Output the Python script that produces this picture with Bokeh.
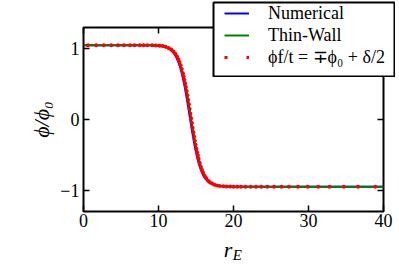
from bokeh.plotting import figure
from bokeh.models import (Range1d, LinearAxis, FixedTicker, Legend, LegendItem,
                          CustomLabelingPolicy)
from bokeh.embed import file_html
from bokeh.resources import INLINE

# ---- data ----
x_ticks = [0, 10, 20, 30, 40]
y_ticks = [-1, 0, 1]
y_tick_labels = {-1: "\u22121", 0: "0", 1: "1"}

numerical_r = [0, 2, 4, 6, 8, 9, 9.5, 10, 10.4, 10.8, 11.2, 11.55, 11.85, 12.1, 12.3,
               12.5, 12.65, 12.8, 12.95, 13.1, 13.2, 13.3, 13.4, 13.5, 13.6, 13.7, 13.8,
               13.9, 14.0, 14.1, 14.2, 14.3, 14.4, 14.5, 14.6, 14.7, 14.8, 14.9, 15.0,
               15.1, 15.2, 15.35, 15.5, 15.65, 15.8, 16.0, 16.2, 16.45, 16.7, 17.0, 17.3,
               17.65, 18.0, 18.5, 18.9, 19.4, 20, 22, 25, 30, 35, 40]
numerical_phi = [1.05, 1.05, 1.05, 1.05, 1.049, 1.048, 1.046, 1.042, 1.037, 1.027, 1.012,
                 0.989, 0.961, 0.928, 0.894, 0.851, 0.812, 0.766, 0.714, 0.654, 0.610,
                 0.563, 0.512, 0.458, 0.401, 0.341, 0.279, 0.215, 0.150, 0.083, 0.017,
                 -0.050, -0.115, -0.179, -0.241, -0.301, -0.358, -0.412, -0.463, -0.510,
                 -0.554, -0.614, -0.666, -0.712, -0.751, -0.794, -0.828, -0.861, -0.885,
                 -0.906, -0.921, -0.931, -0.938, -0.944, -0.946, -0.948, -0.949, -0.95,
                 -0.95, -0.95, -0.95, -0.95]

thinwall_r = [0, 2, 4, 6, 8, 9.15, 9.65, 10.15, 10.55, 10.95, 11.35, 11.7, 12.0, 12.25,
              12.45, 12.65, 12.8, 12.95, 13.1, 13.25, 13.35, 13.45, 13.55, 13.65, 13.75,
              13.85, 13.95, 14.05, 14.15, 14.25, 14.35, 14.45, 14.55, 14.65, 14.75, 14.85,
              14.95, 15.05, 15.15, 15.25, 15.35, 15.5, 15.65, 15.8, 15.95, 16.15, 16.35,
              16.6, 16.85, 17.15, 17.45, 17.8, 18.15, 18.65, 19.05, 19.55, 20.15, 22, 25,
              30, 35, 40]
thinwall_phi = [1.05, 1.05, 1.05, 1.05, 1.049, 1.048, 1.046, 1.042, 1.037, 1.027, 1.012,
                0.989, 0.961, 0.928, 0.894, 0.851, 0.812, 0.766, 0.714, 0.654, 0.610,
                0.563, 0.512, 0.458, 0.401, 0.341, 0.279, 0.215, 0.150, 0.083, 0.017,
                -0.050, -0.115, -0.179, -0.241, -0.301, -0.358, -0.412, -0.463, -0.510,
                -0.554, -0.614, -0.666, -0.712, -0.751, -0.794, -0.828, -0.861, -0.885,
                -0.906, -0.921, -0.931, -0.938, -0.944, -0.946, -0.948, -0.949, -0.95,
                -0.95, -0.95, -0.95, -0.95]

dots_r = [0.6, 1.7, 2.7, 3.7, 4.6, 5.4, 6.2, 6.8, 7.5, 8.0, 8.5, 9.15, 9.65, 10.15, 10.55,
          10.95, 11.35, 11.7, 12.0, 12.25, 12.45, 12.65, 12.8, 12.95, 13.1, 13.25, 13.35,
          13.45, 13.55, 13.65, 13.75, 13.85, 13.95, 14.05, 14.15, 14.25, 14.35, 14.45,
          14.55, 14.65, 14.75, 14.85, 14.95, 15.05, 15.15, 15.25, 15.35, 15.5, 15.65, 15.8,
          15.95, 16.15, 16.35, 16.6, 16.85, 17.15, 17.45, 17.8, 18.15, 18.65, 19.05, 19.55,
          20.0, 20.5, 21.0, 21.6, 22.3, 23.0, 23.7, 24.5, 25.4, 26.4, 27.4, 28.6, 29.9,
          31.3, 32.8, 34.7, 36.6, 38.9]
dots_phi = [1.05, 1.05, 1.05, 1.05, 1.05, 1.05, 1.05, 1.05, 1.05, 1.05, 1.049, 1.048,
            1.046, 1.042, 1.037, 1.027, 1.012, 0.989, 0.961, 0.928, 0.894, 0.851, 0.812,
            0.766, 0.714, 0.654, 0.610, 0.563, 0.512, 0.458, 0.401, 0.341, 0.279, 0.215,
            0.150, 0.083, 0.017, -0.050, -0.115, -0.179, -0.241, -0.301, -0.358, -0.412,
            -0.463, -0.510, -0.554, -0.614, -0.666, -0.712, -0.751, -0.794, -0.828, -0.861,
            -0.885, -0.906, -0.921, -0.931, -0.938, -0.944, -0.946, -0.948, -0.949, -0.949,
            -0.95, -0.95, -0.95, -0.95, -0.95, -0.95, -0.95, -0.95, -0.95, -0.95, -0.95,
            -0.95, -0.95, -0.95, -0.95, -0.95]

legend_labels = ["Numerical", "Thin-Wall", "\u03d5f/t = \u2213\u03d5\u2080 + \u03b4/2"]
x_label = "r\u00a0\u00a0"
x_label_sub = "\u00a0\u00a0E"
y_label = "\u03d5/\u03d5\u2080"

FONT = "Liberation Serif"
BLUE, GREEN, RED = "#0000ff", "#008000", "#ff0000"

# ---------------- main plot ----------------
p = figure(frame_width=300, frame_height=184,
           x_range=Range1d(0, 40), y_range=Range1d(-1.3, 1.3),
           output_backend="svg", toolbar_location=None,
           min_border_left=83, min_border_right=16, min_border_top=27, min_border_bottom=55)
p.grid.visible = False
p.background_fill_color = "white"
p.border_fill_color = "white"
p.outline_line_color = "black"
p.outline_line_width = 2

no_labels = CustomLabelingPolicy(code="""
const ks = [...indices]
for (const i of ks) indices.unset(i)
return indices
""")
p.add_layout(LinearAxis(major_label_policy=no_labels), "above")
p.add_layout(LinearAxis(major_label_policy=no_labels), "right")

for ax in p.xaxis:
    ax.ticker = FixedTicker(ticks=x_ticks)
for ax in p.yaxis:
    ax.ticker = FixedTicker(ticks=y_ticks)
for ax in p.axis:
    ax.axis_line_color = None
    ax.major_tick_in = 6
    ax.major_tick_out = 0
    ax.major_tick_line_width = 1.5
    ax.major_tick_line_color = "black"
    ax.minor_tick_line_color = None
    ax.major_label_text_font = FONT
    ax.major_label_text_font_size = "18px"
    ax.major_label_text_color = "black"
for ax in (p.above[0], p.right[0]):
    ax.major_label_text_font_size = "6px"
    ax.major_label_standoff = 0

bx = p.below[0]
bx.major_label_standoff = 2
bx.axis_label = x_label
bx.axis_label_text_font = FONT
bx.axis_label_text_font_size = "22px"
bx.axis_label_text_font_style = "italic"
bx.axis_label_text_color = "black"
bx.axis_label_standoff = 7

# second, tick-less axis below that only carries the subscript "E" of r_E
sub_axis = LinearAxis(ticker=FixedTicker(ticks=[]), major_label_policy=no_labels,
                      axis_line_color=None, major_tick_line_color=None,
                      minor_tick_line_color=None, major_tick_in=0, major_tick_out=0,
                      major_label_text_font_size="6px", major_label_standoff=0,
                      axis_label=x_label_sub, axis_label_standoff=-18,
                      axis_label_text_font=FONT, axis_label_text_font_style="italic",
                      axis_label_text_font_size="15px", axis_label_text_color="black")
p.add_layout(sub_axis, "below")

ly = p.left[0]
ly.major_label_standoff = 4
ly.major_label_overrides = y_tick_labels
ly.axis_label = y_label
ly.axis_label_text_font = FONT
ly.axis_label_text_font_size = "22px"
ly.axis_label_text_font_style = "italic"
ly.axis_label_text_color = "black"
ly.axis_label_standoff = 3

p.line(numerical_r, numerical_phi, line_color=BLUE, line_width=2)
p.line(thinwall_r, thinwall_phi, line_color=GREEN, line_width=2)
p.scatter(dots_r, dots_phi, size=4, marker="circle", fill_color=RED, line_color=None)

# ---------------- legend panel (overlaid on the top-right of the plot) ----------------
# its ranges lie outside the data, so only the legend keys show in it
q = figure(width=183, height=76, min_border=1, x_axis_location=None, y_axis_location=None,
           x_range=Range1d(100, 101), y_range=Range1d(100, 101),
           output_backend="svg", toolbar_location=None)
q.grid.visible = False
q.background_fill_color = "white"
q.border_fill_color = None
q.outline_line_color = "black"
q.outline_line_width = 2
k_num = q.line(numerical_r, numerical_phi, line_color=BLUE, line_width=2)
k_tw = q.line(thinwall_r, thinwall_phi, line_color=GREEN, line_width=2)
k_dots = q.line(dots_r, dots_phi, line_color=RED, line_width=3, line_dash="3 19")
legend = Legend(items=[LegendItem(label=legend_labels[0], renderers=[k_num]),
                       LegendItem(label=legend_labels[1], renderers=[k_tw]),
                       LegendItem(label=legend_labels[2], renderers=[k_dots])],
                location=(11, 8), orientation="vertical",
                border_line_color=None, background_fill_alpha=0.0,
                padding=0, spacing=0, margin=0,
                glyph_width=25, glyph_height=22, label_height=22, label_standoff=19,
                label_text_font=FONT, label_text_font_size="18px", label_text_color="black")
q.add_layout(legend, "center")
q.styles = {"position": "absolute", "left": "212px", "top": "1px", "z-index": "5"}

open("out.html", "w").write(file_html([p, q], INLINE))
